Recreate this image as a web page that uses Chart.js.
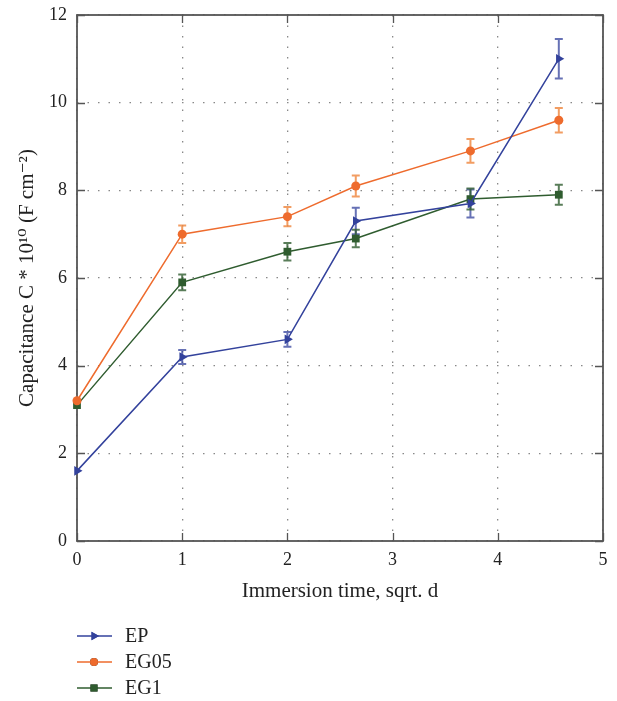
<!DOCTYPE html>
<html>
<head>
<meta charset="utf-8">
<script src="https://cdn.jsdelivr.net/npm/chart.js@4.4.0/dist/chart.umd.min.js"></script>
<style>
html,body{margin:0;padding:0;background:#fff;}
#wrap{width:617px;height:701px;position:relative;}
</style>
</head>
<body>
<div id="wrap"><canvas id="c" width="617" height="701"></canvas></div>
<script>
const xValues = [0, 1, 2, 2.65, 3.74, 4.58];
const seriesNames = ['EP', 'EG05', 'EG1'];
const epValues = [1.6, 4.2, 4.6, 7.3, 7.7, 11.0];
const epErrors = [0, 0.16, 0.17, 0.3, 0.32, 0.45];
const eg05Values = [3.2, 7.0, 7.4, 8.1, 8.9, 9.6];
const eg05Errors = [0, 0.2, 0.22, 0.24, 0.27, 0.28];
const eg1Values = [3.1, 5.9, 6.6, 6.9, 7.8, 7.9];
const eg1Errors = [0, 0.18, 0.2, 0.2, 0.24, 0.23];
const xTicks = [0, 1, 2, 3, 4, 5];
const yTicks = [0, 2, 4, 6, 8, 10, 12];

const FONT = "'Liberation Serif', 'DejaVu Serif', serif";
const colors = ['#33429c', '#ee6b2d', '#2f5c2f'];
const errColors = ['rgba(51,66,156,0.75)', 'rgba(240,140,70,0.85)', 'rgba(47,92,47,0.8)'];
const styles = [
  {pointStyle: 'triangle', rotation: 90, radius: 5.5},
  {pointStyle: 'circle', rotation: 0, radius: 4.5},
  {pointStyle: 'rect', rotation: 0, radius: 5.5}
];
const valueSets = [epValues, eg05Values, eg1Values];
const errorSets = [epErrors, eg05Errors, eg1Errors];

const datasets = seriesNames.map((name, i) => ({
  label: name,
  data: xValues.map((x, j) => ({x: x, y: valueSets[i][j], err: errorSets[i][j]})),
  borderColor: colors[i],
  backgroundColor: colors[i],
  borderWidth: 1.5,
  pointStyle: styles[i].pointStyle,
  rotation: styles[i].rotation,
  pointRadius: styles[i].radius,
  pointBorderWidth: 0,
  tension: 0,
  clip: false
}));

const errorBarPlugin = {
  id: 'errorBars',
  beforeDatasetsDraw(chart) {
    const ctx = chart.ctx;
    const xs = chart.scales.x, ys = chart.scales.y;
    chart.data.datasets.forEach((ds, i) => {
      ctx.save();
      ctx.strokeStyle = errColors[i];
      ctx.lineWidth = 2;
      ds.data.forEach(p => {
        if (!p.err) return;
        const px = xs.getPixelForValue(p.x);
        const top = ys.getPixelForValue(p.y + p.err);
        const bot = ys.getPixelForValue(p.y - p.err);
        ctx.beginPath();
        ctx.moveTo(px, top); ctx.lineTo(px, bot);
        ctx.moveTo(px - 4, top); ctx.lineTo(px + 4, top);
        ctx.moveTo(px - 4, bot); ctx.lineTo(px + 4, bot);
        ctx.stroke();
      });
      ctx.restore();
    });
  }
};

const framePlugin = {
  id: 'frame',
  beforeDatasetsDraw(chart) {
    const ctx = chart.ctx;
    const a = chart.chartArea;
    const xs = chart.scales.x, ys = chart.scales.y;
    ctx.save();
    ctx.strokeStyle = '#555';
    ctx.lineWidth = 1.8;
    ctx.strokeRect(a.left, a.top, a.right - a.left, a.bottom - a.top);
    ctx.lineWidth = 1.3;
    ctx.beginPath();
    xTicks.forEach(v => {
      const px = Math.round(xs.getPixelForValue(v)) + 0.5;
      ctx.moveTo(px, a.bottom); ctx.lineTo(px, a.bottom - 8);
      ctx.moveTo(px, a.top); ctx.lineTo(px, a.top + 8);
    });
    yTicks.forEach(v => {
      const py = Math.round(ys.getPixelForValue(v)) + 0.5;
      ctx.moveTo(a.left, py); ctx.lineTo(a.left + 8, py);
      ctx.moveTo(a.right, py); ctx.lineTo(a.right - 8, py);
    });
    ctx.stroke();
    ctx.restore();
  }
};

const legendPlugin = {
  id: 'customLegend',
  afterDraw(chart) {
    const ctx = chart.ctx;
    const rowY = [636, 662, 688];
    ctx.save();
    chart.data.datasets.forEach((ds, i) => {
      const y = rowY[i];
      ctx.strokeStyle = colors[i];
      ctx.lineWidth = 1.5;
      ctx.beginPath();
      ctx.moveTo(77, y); ctx.lineTo(112, y);
      ctx.stroke();
      Chart.helpers.drawPoint(ctx, {
        pointStyle: styles[i].pointStyle,
        rotation: styles[i].rotation,
        radius: styles[i].radius - 0.5,
        borderWidth: 0
      }, 94, y);
      ctx.fillStyle = colors[i];
      ctx.fill();
      ctx.fillStyle = '#222';
      ctx.font = '20px ' + FONT;
      ctx.textBaseline = 'middle';
      ctx.textAlign = 'left';
      ctx.fillText(ds.label, 125, y + 1);
    });
    ctx.restore();
  }
};

new Chart(document.getElementById('c'), {
  type: 'line',
  data: {datasets: datasets},
  plugins: [errorBarPlugin, framePlugin, legendPlugin],
  options: {
    responsive: false,
    animation: false,
    devicePixelRatio: 1,
    layout: {autoPadding: false, padding: {top: 15, right: 14, bottom: 97, left: 0}},
    plugins: {legend: {display: false}, tooltip: {enabled: false}},
    scales: {
      x: {
        type: 'linear', min: 0, max: 5,
        afterFit(s) { s.height = 63; s.paddingLeft = 0; s.paddingRight = 0; },
        afterBuildTicks(s) { s.ticks = xTicks.map(v => ({value: v})); },
        grid: {color: '#888', lineWidth: 1.3, drawTicks: false},
        border: {display: false, dash: [1.5, 9]},
        ticks: {color: '#222', font: {family: FONT, size: 18}, padding: 8, maxRotation: 0},
        title: {display: true, text: 'Immersion time, sqrt. d', color: '#222', font: {family: FONT, size: 21}, padding: {top: 8, bottom: 0}}
      },
      y: {
        type: 'linear', min: 0, max: 12,
        afterFit(s) { s.width = 77; s.paddingTop = 0; s.paddingBottom = 0; },
        afterBuildTicks(s) { s.ticks = yTicks.map(v => ({value: v})); },
        grid: {color: '#888', lineWidth: 1.3, drawTicks: false},
        border: {display: false, dash: [1.5, 9]},
        ticks: {color: '#222', font: {family: FONT, size: 18}, padding: 10},
        title: {display: true, text: 'Capacitance C * 10¹⁰ (F cm⁻²)', color: '#222', font: {family: FONT, size: 21}, padding: {top: 15, bottom: 4}}
      }
    }
  }
});
</script>
</body>
</html>
